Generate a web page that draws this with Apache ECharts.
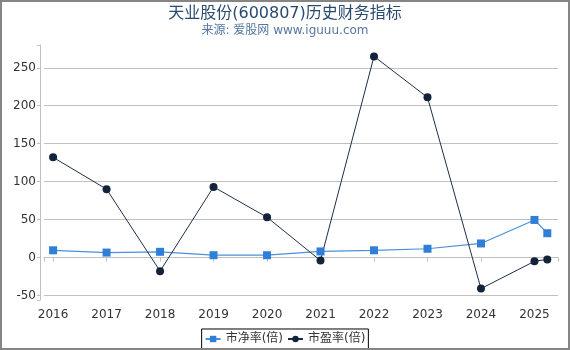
<!DOCTYPE html>
<html>
<head>
<meta charset="utf-8">
<script src="https://cdn.jsdelivr.net/npm/echarts@6/dist/echarts.min.js"></script>
<style>
body { margin: 0; background: #fff; }
#wrap { position: relative; width: 570px; height: 350px; }
#main { width: 570px; height: 350px; }
#frame { position: absolute; left: 0; top: 0; width: 570px; height: 350px; box-sizing: border-box; border: 2px solid #858585; pointer-events: none; }
</style>
</head>
<body>
<div id="wrap">
  <div id="main"></div>
  <div id="frame"></div>
</div>
<script>
// 年份 (最后一个点是 2025 一季度)
var years = [2016, 2017, 2018, 2019, 2020, 2021, 2022, 2023, 2024, 2025, 2025.24];
var pbValues = [9.5, 6.5, 7.5, 3, 3, 8, 9.5, 11.5, 18.5, 49.5, 32];
var peValues = [132, 90, -18, 93, 53, -4, 265, 211, -41, -5, -2.5];
var names = ['市净率(倍)', '市盈率(倍)'];

function pairs(xs, ys) {
    var out = [];
    for (var i = 0; i < xs.length; i++) {
        out.push([xs[i], ys[i]]);
    }
    return out;
}

var chart = echarts.init(document.getElementById('main'));
var font = 'DejaVu Sans, Noto Sans CJK SC, sans-serif';

var option = {
    animation: false,
    title: {
        text: '天业股份(600807)历史财务指标',
        subtext: '来源: 爱股网 www.iguuu.com',
        left: 'center',
        top: 1,
        itemGap: 3,
        textStyle: { fontSize: 16, fontWeight: 'normal', color: '#2b4a6f', fontFamily: font },
        subtextStyle: { fontSize: 12, color: '#5577a0', fontFamily: font }
    },
    legend: {
        bottom: 1,
        left: 'center',
        data: names,
        borderColor: '#000',
        borderWidth: 1,
        borderRadius: 0,
        padding: [4, 3],
        itemGap: 4,
        itemWidth: 15,
        itemHeight: 8,
        textStyle: { fontSize: 12, color: '#333', fontFamily: font }
    },
    grid: { left: 44, right: 12, top: 45, bottom: 50, containLabel: false },
    xAxis: {
        type: 'value',
        min: 2015.83,
        max: 2025.44,
        splitNumber: 10,
        offset: 4,
        axisLine: { lineStyle: { color: '#c0c0c0' } },
        axisTick: { show: true, length: 4, lineStyle: { color: '#c0c0c0' } },
        splitLine: { show: false },
        axisLabel: {
            color: '#333', fontSize: 12, fontFamily: font, margin: 5,
            formatter: function (v) { return (v % 1 === 0) ? String(v) : ''; }
        }
    },
    yAxis: {
        type: 'value',
        min: -56,
        max: 280,
        offset: 4,
        axisLine: { show: true, lineStyle: { color: '#c0c0c0' } },
        axisTick: { show: true, length: 3, lineStyle: { color: '#c0c0c0' } },
        splitLine: { show: true, showMinLine: false, showMaxLine: false, lineStyle: { color: '#c0c0c0' } },
        axisLabel: {
            color: '#333', fontSize: 12, fontFamily: font, margin: 4,
            formatter: function (v) { return (v % 50 === 0) ? String(v) : ''; }
        }
    },
    series: [
        {
            name: names[0],
            type: 'line',
            data: pairs(years, pbValues),
            symbol: 'rect',
            symbolSize: 8,
            itemStyle: { color: '#2f7fd8' },
            lineStyle: { width: 1.2, color: '#4a90dc' }
        },
        {
            name: names[1],
            type: 'line',
            data: pairs(years, peValues),
            symbol: 'circle',
            symbolSize: 8,
            itemStyle: { color: '#13233b' },
            lineStyle: { width: 1, color: '#1e2e48' }
        }
    ]
};

chart.setOption(option);
</script>
</body>
</html>
